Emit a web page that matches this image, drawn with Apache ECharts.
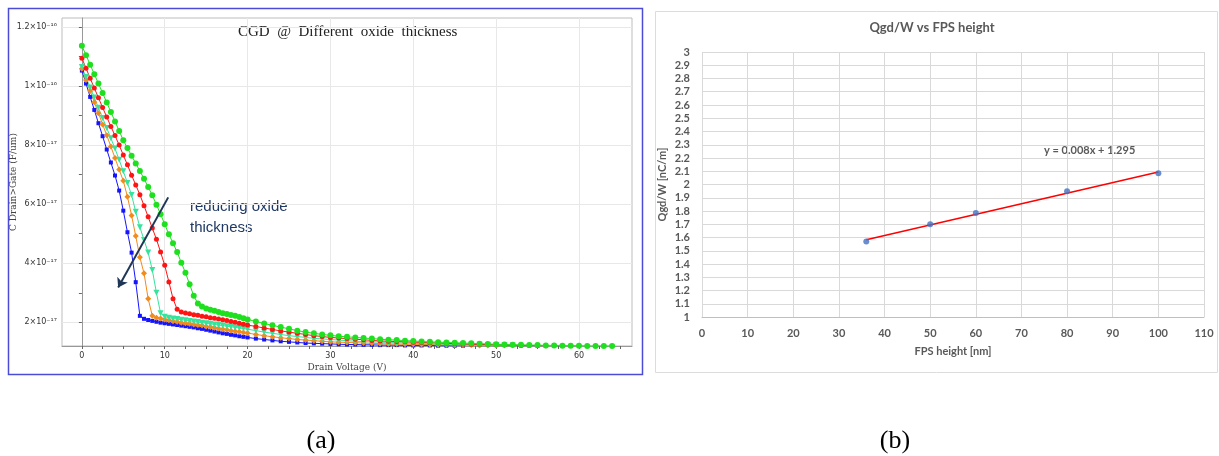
<!DOCTYPE html>
<html><head><meta charset="utf-8">
<script src="https://cdn.jsdelivr.net/npm/echarts@6/dist/echarts.min.js"></script>
<style>html,body{margin:0;padding:0;background:#fff;}#c{width:1219px;height:456px;}</style>
</head><body><div id="c"></div>
<script>
// ---------- Panel (a): CGD vs drain voltage (values in units of 1e-17 F/um) ----------
const voltage = [0,0.5,1,1.5,2,2.5,3,3.5,4,4.5,5,5.5,6,6.5,7,7.5,8,8.5,9,9.5,10,10.5,11,11.5,12,12.5,13,13.5,14,14.5,15,15.5,16,16.5,17,17.5,18,18.5,19,19.5,20,
  21,22,23,24,25,26,27,28,29,30,31,32,33,34,35,36,37,38,39,40,41,42,43,44,45,46,47,48,49,50,51,52,53,54,55,56,57,58,59,60,61,62,63,64];

const cgdBlue = [10.52,10.08,9.63,9.19,8.74,8.30,7.85,7.41,6.97,6.46,5.78,5.05,4.36,3.36,2.22,2.12,2.08,2.05,2.02,1.99,1.97,1.95,1.93,1.91,1.89,1.87,1.85,1.83,1.80,1.78,1.75,1.72,1.69,1.66,1.63,1.61,1.58,1.56,1.53,1.51,1.49,
  1.45,1.42,1.39,1.36,1.34,1.32,1.30,1.29,1.28,1.27,1.26,1.25,1.25,1.24,1.24,1.23,1.23,1.23,1.22,1.22,1.22,1.22,1.21,1.21,1.21,1.21];
const cgdOrange = [10.58,10.20,9.83,9.45,9.08,8.70,8.33,7.95,7.56,7.17,6.79,6.25,5.62,4.92,4.20,3.66,2.80,2.22,2.16,2.13,2.10,2.07,2.04,2.02,1.99,1.97,1.95,1.93,1.91,1.89,1.86,1.84,1.82,1.79,1.77,1.75,1.72,1.70,1.68,1.66,1.64,
  1.59,1.55,1.51,1.48,1.45,1.42,1.40,1.38,1.36,1.34,1.33,1.32,1.31,1.30,1.29,1.28,1.27,1.27,1.26,1.26,1.25,1.25,1.24,1.24,1.23,1.23,1.23,1.22,1.22,1.22];
const cgdTeal = [10.64,10.30,9.95,9.61,9.26,8.92,8.58,8.23,7.88,7.50,7.11,6.72,6.31,5.74,5.22,4.79,4.36,3.77,3.00,2.31,2.19,2.16,2.13,2.11,2.09,2.07,2.05,2.03,2.01,1.99,1.97,1.95,1.93,1.91,1.89,1.87,1.85,1.83,1.81,1.79,1.77,
  1.72,1.67,1.63,1.59,1.55,1.52,1.49,1.46,1.44,1.42,1.40,1.38,1.36,1.35,1.34,1.33,1.32,1.31,1.30,1.29,1.28,1.27,1.26,1.26,1.25,1.25,1.24,1.24,1.23,1.23,1.22,1.22];
const cgdRed = [10.94,10.60,10.26,9.93,9.60,9.27,8.95,8.63,8.32,8.00,7.66,7.33,6.98,6.65,6.32,5.95,5.57,5.19,4.81,4.38,3.93,3.37,2.80,2.44,2.35,2.32,2.29,2.26,2.24,2.21,2.19,2.16,2.14,2.11,2.09,2.06,2.03,2.00,1.97,1.94,1.91,
  1.86,1.81,1.76,1.71,1.67,1.63,1.59,1.55,1.52,1.49,1.47,1.45,1.43,1.41,1.39,1.37,1.36,1.35,1.34,1.33,1.32,1.31,1.30,1.29,1.28,1.27,1.26,1.25,1.25,1.24,1.23,1.23,1.22,1.22,1.21,1.21];
const cgdGreen = [11.36,11.04,10.72,10.40,10.08,9.76,9.44,9.12,8.80,8.48,8.16,7.90,7.64,7.38,7.12,6.86,6.58,6.30,5.98,5.66,5.32,4.98,4.68,4.38,4.02,3.68,3.29,2.90,2.64,2.54,2.47,2.43,2.39,2.35,2.31,2.28,2.25,2.22,2.18,2.14,2.10,
  2.03,1.96,1.90,1.84,1.78,1.72,1.67,1.63,1.59,1.56,1.53,1.51,1.49,1.47,1.45,1.43,1.41,1.40,1.38,1.37,1.35,1.34,1.33,1.32,1.31,1.30,1.29,1.28,1.27,1.26,1.25,1.24,1.24,1.23,1.23,1.22,1.22,1.21,1.21,1.21,1.20,1.20,1.20,1.20];

const xTicksA = [0,2.5,5,7.5,10,12.5,15,17.5,20,22.5,25,27.5,30,32.5,35,37.5,40,42.5,45,47.5,50,52.5,55,57.5,60,62.5,65];
const xLabelsA = [0,10,20,30,40,50,60];
const yTicksA = [2,3,4,5,6,7,8,9,10,11,12];
const yLabelValsA = [2,4,6,8,10,12];
const yLabelTextA = ['2\u00d710\u207b\u00b9\u2077','4\u00d710\u207b\u00b9\u2077','6\u00d710\u207b\u00b9\u2077','8\u00d710\u207b\u00b9\u2077','1\u00d710\u207b\u00b9\u2076','1.2\u00d710\u207b\u00b9\u2076'];
const arrowFrom = [10.42, 6.23];
const arrowTo = [4.38, 3.18];

// ---------- Panel (b): Qgd/W vs FPS height ----------
const fpsHeight = [36, 50, 60, 80, 100];
const qgdW = [1.57, 1.70, 1.785, 1.95, 2.085];
const trendX = [36, 100];
const trendY = [1.583, 2.095];

const pairs = (xs, vals) => vals.map((v, i) => [xs[i], v]);

function curve(name, vals, color, symbol, size, rot) {
  return {
    name, type: 'line', xAxisIndex: 0, yAxisIndex: 0,
    data: pairs(voltage, vals),
    symbol, symbolSize: size, symbolRotate: rot || 0, showSymbol: true,
    itemStyle: { color }, lineStyle: { color, width: 1 },
    animation: false
  };
}

const greenSeries = curve('green', cgdGreen, '#1fe01f', 'circle', 6);
greenSeries.markLine = {
  silent: true, animation: false,
  symbol: ['none', 'arrow'], symbolSize: 9,
  lineStyle: { color: '#1f3657', width: 2, type: 'solid' },
  label: { show: false },
  data: [[{ coord: arrowFrom }, { coord: arrowTo }]]
};

const chart = echarts.init(document.getElementById('c'));
chart.setOption({
  animation: false,
  backgroundColor: '#ffffff',
  grid: [
    { left: 62, right: 587, top: 18, bottom: 110, show: true, borderColor: '#bdbdbd', borderWidth: 1, backgroundColor: 'transparent' },
    { left: 702, right: 15, top: 52, bottom: 139 }
  ],
  xAxis: [
    { type: 'value', gridIndex: 0, min: -2.4, max: 66.4,
      name: 'Drain Voltage (V)', nameLocation: 'middle', nameGap: 17, nameMoveOverlap: false,
      nameTextStyle: { fontFamily: 'DejaVu Serif', fontSize: 9, color: '#444' },
      axisLine: { lineStyle: { color: '#999' } },
      axisTick: { customValues: xTicksA, length: 3, lineStyle: { color: '#666' } },
      axisLabel: { customValues: xLabelsA, margin: 6, fontFamily: 'DejaVu Sans', fontSize: 8, color: '#333' },
      splitLine: { show: false } },
    { type: 'value', gridIndex: 0, min: -2.4, max: 66.4,
      axisLine: { show: false }, axisTick: { show: false, customValues: xLabelsA }, axisLabel: { show: false },
      splitLine: { show: true, lineStyle: { color: '#e8e8e8', width: 1 } } },
    { type: 'value', gridIndex: 1, min: 0, max: 110, interval: 10,
      name: 'FPS height [nm]', nameLocation: 'middle', nameGap: 29, nameMoveOverlap: false,
      nameTextStyle: { fontFamily: 'Lato', fontWeight: 'bold', fontSize: 11, color: '#595959' },
      axisLine: { lineStyle: { color: '#bfbfbf' } }, axisTick: { show: false },
      axisLabel: { margin: 11, fontFamily: 'Lato', fontWeight: 'bold', fontSize: 11, color: '#595959' },
      splitLine: { show: true, lineStyle: { color: '#d9d9d9' } } }
  ],
  yAxis: [
    { type: 'value', gridIndex: 0, min: 1.2, max: 12.3,
      name: 'C Drain>Gate (F/um)', nameLocation: 'middle', nameGap: 44, nameMoveOverlap: false,
      nameTextStyle: { fontFamily: 'DejaVu Serif', fontSize: 9, color: '#444' },
      axisLine: { show: true, lineStyle: { color: '#999' } },
      axisTick: { show: true, customValues: yTicksA, length: 3, lineStyle: { color: '#666' } },
      axisLabel: { customValues: yLabelValsA, margin: 5, fontFamily: 'DejaVu Sans', fontSize: 8, color: '#333',
        formatter: v => { const i = yLabelValsA.indexOf(Math.round(v)); return i >= 0 ? yLabelTextA[i] : ''; } },
      splitLine: { show: false } },
    { type: 'value', gridIndex: 0, min: 1.2, max: 12.3,
      axisLine: { show: false }, axisTick: { show: false, customValues: yLabelValsA }, axisLabel: { show: false },
      splitLine: { show: true, lineStyle: { color: '#e8e8e8', width: 1 } } },
    { type: 'value', gridIndex: 1, min: 1, max: 3, interval: 0.1,
      name: 'Qgd/W [nC/m]', nameLocation: 'middle', nameGap: 34, nameMoveOverlap: false,
      nameTextStyle: { fontFamily: 'Lato', fontWeight: 'bold', fontSize: 11, color: '#595959' },
      axisLine: { show: false }, axisTick: { show: false },
      axisLabel: { margin: 12, fontFamily: 'Lato', fontWeight: 'bold', fontSize: 11, color: '#595959' },
      splitLine: { show: true, lineStyle: { color: '#d9d9d9' } } }
  ],
  series: [
    curve('blue', cgdBlue, '#1414ff', 'rect', 4),
    curve('orange', cgdOrange, '#f28a1c', 'diamond', 6),
    curve('teal', cgdTeal, '#36e39c', 'triangle', 6, 180),
    curve('red', cgdRed, '#ff1414', 'circle', 5),
    greenSeries,
    { type: 'line', xAxisIndex: 2, yAxisIndex: 2, data: pairs(trendX, trendY),
      symbol: 'none', lineStyle: { color: '#ff0000', width: 1.5 }, z: 3 },
    { type: 'scatter', xAxisIndex: 2, yAxisIndex: 2, data: pairs(fpsHeight, qgdW),
      symbol: 'circle', symbolSize: 6, itemStyle: { color: '#4472c4' }, z: 4 }
  ],
  graphic: [
    { type: 'rect', shape: { x: 8.5, y: 8.5, width: 634, height: 366 }, style: { fill: 'none', stroke: '#4b4bd6', lineWidth: 1.5 }, silent: true },
    { type: 'rect', shape: { x: 655.5, y: 11.5, width: 562, height: 361 }, style: { fill: 'none', stroke: '#dcdcdc', lineWidth: 1 }, silent: true },
    { type: 'text', x: 238, y: 32, style: { text: 'CGD  @  Different  oxide  thickness', font: '15px "Liberation Serif"', fill: '#222', textVerticalAlign: 'middle' } },
    { type: 'text', x: 190, y: 196, style: { text: 'reducing oxide\nthickness', font: '15px "Liberation Sans"', lineHeight: 21, fill: '#1f3864' } },
    { type: 'text', x: 932, y: 28, style: { text: 'Qgd/W vs FPS height', font: 'bold 13px Lato', fill: '#595959', textAlign: 'center', textVerticalAlign: 'middle' } },
    { type: 'text', x: 1044, y: 150, style: { text: 'y = 0.008x + 1.295', font: 'bold 11px Lato', fill: '#595959', textVerticalAlign: 'middle' } },
    { type: 'text', x: 321, y: 441, style: { text: '(a)', font: '26px "Liberation Serif"', fill: '#000', textAlign: 'center', textVerticalAlign: 'middle' } },
    { type: 'text', x: 895, y: 441, style: { text: '(b)', font: '26px "Liberation Serif"', fill: '#000', textAlign: 'center', textVerticalAlign: 'middle' } }
  ]
});
</script>
</body></html>
